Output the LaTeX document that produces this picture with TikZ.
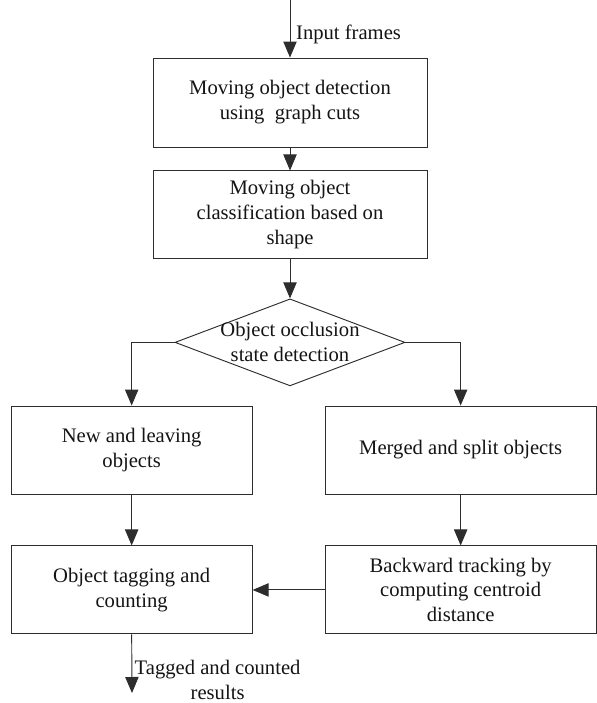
\documentclass[tikz,border=0pt]{standalone}
\usepackage{fontspec}
\setmainfont{Liberation Serif}
\usetikzlibrary{shapes.geometric,arrows.meta,positioning}
\definecolor{lineGray}{RGB}{45,45,45}
\definecolor{textDark}{RGB}{20,20,20}
\tikzset{
  basebox/.style={rectangle,draw=lineGray,line width=0.8pt,align=center,text=textDark,font=\fontsize{17.6}{21.3}\selectfont,inner sep=0pt},
  stepnode/.style={basebox,minimum width=8.22cm,minimum height=2.64cm},
  leftnode/.style={basebox,minimum width=7.23cm,minimum height=2.64cm},
  rightnode/.style={basebox,minimum width=8.13cm,minimum height=2.64cm},
  decnode/.style={diamond,draw=lineGray,line width=0.8pt,align=center,text=textDark,font=\fontsize{17.6}{21.3}\selectfont,aspect=2.64,inner sep=-0.2cm,minimum width=6.9cm,minimum height=2.61cm},
  lbl/.style={align=center,text=textDark,font=\fontsize{17.6}{21.3}\selectfont,inner sep=2pt},
  arr/.style={-{Triangle[length=0.48cm,width=0.4cm]},line width=0.8pt,color=lineGray}
}

\begin{document}
\begin{tikzpicture}[node distance=0.69cm and 2.16cm]
  \useasboundingbox (0,0) rectangle (17.91,-21.09);

  \coordinate (inframe) at (8.7,0);
  \node[stepnode,minimum height=2.67cm] (detect) at (8.7,-3.075) {Moving object detection\\using~~graph cuts};
  \node[stepnode,below=0.69cm of detect] (classify) {Moving object\\classification based on\\shape};
  \node[decnode,below=1.17cm of classify] (occl) {Object occlusion\\state detection};

  \node[leftnode] (newobj) at (3.95,-13.5) {New and leaving\\objects};
  \node[rightnode] (merged) at (13.82,-13.5) {Merged and split objects};
  \node[leftnode,below=1.53cm of newobj] (tagging) {Object tagging and\\counting};
  \node[rightnode,below=1.53cm of merged] (backtrack) {Backward tracking by\\computing centroid\\distance};
  \coordinate (outres) at (3.96,-20.79);

  \draw[arr] (inframe) -- node[lbl,right,pos=0.6,xshift=0.1cm] {Input frames} (detect.north);
  \draw[arr] (detect.south)--(classify.north);
  \draw[arr] (classify.south)--(occl.north);
  \draw[arr] (occl.west) -| (newobj.north);
  \draw[arr] (occl.east) -| (merged.north);
  \draw[arr] (newobj.south)--(tagging.north);
  \draw[arr] (merged.south)--(backtrack.north);
  \draw[arr] (backtrack.west)--(tagging.east);
  \draw[arr] (tagging.south) -- node[lbl,right,pos=0.78] {Tagged and counted\\results} (outres);
\end{tikzpicture}
\end{document}
